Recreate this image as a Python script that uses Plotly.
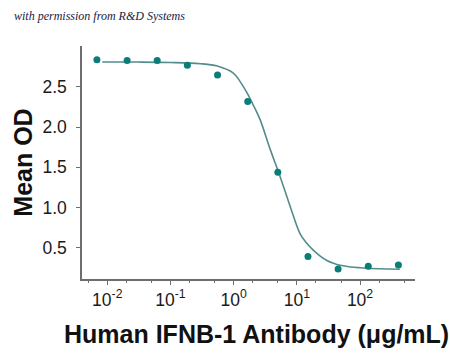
import plotly.graph_objects as go

# Data points (3-fold dilution series)
conc = [0.00686, 0.0206, 0.0617, 0.185, 0.556, 1.67, 5.0, 15.0, 45.0, 135.0, 405.0]
mean_od = [2.84, 2.83, 2.83, 2.77, 2.65, 2.32, 1.44, 0.39, 0.236, 0.27, 0.285]

# Fitted curve
curve_logx = [-2.08, -1.5, -1.0, -0.53, -0.26, 0.0, 0.1, 0.21, 0.32, 0.42, 0.58, 0.737, 0.896,
              1.05, 1.15, 1.264, 1.37, 1.476, 1.58, 1.687, 1.85, 2.0, 2.3, 2.63]
curve_y = [2.81, 2.81, 2.805, 2.79, 2.76, 2.67, 2.57, 2.43, 2.26, 2.09, 1.72, 1.38, 1.01,
           0.675, 0.56, 0.466, 0.395, 0.34, 0.305, 0.28, 0.26, 0.25, 0.237, 0.232]
curve_x = [10 ** v for v in curve_logx]

x_tickvals = [0.01, 0.1, 1, 10, 100]
x_ticktext = ["10<sup>-2</sup>", "10<sup>-1</sup>", "10<sup>0</sup>", "10<sup>1</sup>", "10<sup>2</sup>"]
y_tickvals = [0.5, 1.0, 1.5, 2.0, 2.5]
y_ticktext = ["0.5", "1.0", "1.5", "2.0", "2.5"]

fig = go.Figure()
fig.add_trace(go.Scatter(x=curve_x, y=curve_y, mode="lines", line_shape="spline",
                         line=dict(color="#548c8c", width=1.6), hoverinfo="skip"))
fig.add_trace(go.Scatter(x=conc, y=mean_od, mode="markers",
                         marker=dict(color="#0b7d78", size=7)))

fig.update_layout(
    width=450, height=358,
    margin=dict(l=82, r=35, t=46, b=79),
    paper_bgcolor="white", plot_bgcolor="white",
    showlegend=False,
    font=dict(family="Liberation Sans, Arial, sans-serif", color="#1a1a1a"),
)
fig.update_xaxes(
    type="log", range=[-2.40, 2.87], automargin=False,
    tickvals=x_tickvals, ticktext=x_ticktext,
    tickfont=dict(size=17.5, color="#1a1a1a"),
    showline=True, linecolor="#6e6e6e", linewidth=1.5,
    ticks="outside", ticklen=4, tickcolor="#6e6e6e",
    minor=dict(ticks="outside", ticklen=2, tickcolor="#6e6e6e", showgrid=False),
    showgrid=False, zeroline=False,
)
fig.update_yaxes(
    range=[0.11, 3.01], automargin=False,
    tickvals=y_tickvals, ticktext=y_ticktext,
    tickfont=dict(size=17.5, color="#1a1a1a"),
    showline=True, linecolor="#6e6e6e", linewidth=1.5,
    ticks="outside", ticklen=4, tickcolor="#6e6e6e", ticklabelstandoff=6,
    showgrid=False, zeroline=False,
    title=dict(text="<b>Mean OD</b>", font=dict(size=25, color="#111"), standoff=3),
)
# x-axis title placed as annotation to match reference position
fig.add_annotation(text="<b>Human IFNB-1 Antibody (μg/mL)</b>",
                   xref="paper", yref="paper", x=(256 - 82) / 333, y=-0.238,
                   xanchor="center", yanchor="middle", showarrow=False,
                   font=dict(size=25, color="#111"))
fig.add_annotation(text="<i>with permission from R&amp;D Systems</i>",
                   xref="paper", yref="paper", x=-0.211, y=1.13, xanchor="left", yanchor="middle",
                   showarrow=False, font=dict(family="Liberation Serif, serif", size=12, color="#1a1a40"))

fig.write_html("out.html", config={"displayModeBar": False},
               post_script="document.body.style.margin='0px';")
